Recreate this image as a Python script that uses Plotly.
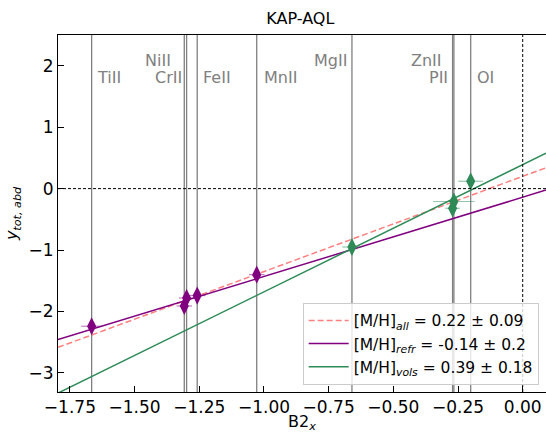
import plotly.graph_objects as go

# Elements (vertical reference lines and points)
elements = ["TiII", "NiII", "CrII", "FeII", "MnII", "MgII", "ZnII", "PII", "OI"]
elem_x = [-1.666, -1.308, -1.299, -1.258, -1.028, -0.660, -0.271, -0.266, -0.201]
label_row = [1.81, 2.09, 1.81, 1.81, 1.81, 2.09, 2.09, 1.81, 1.81]
label_side = ["right", "left", "left", "right", "right", "left", "left", "left", "right"]

# Refractory points
refr_x = [-1.666, -1.308, -1.299, -1.258, -1.028]
refr_y = [-2.24, -1.91, -1.78, -1.74, -1.40]
refr_xerr = [0.04, 0.03, 0.03, 0.032, 0.03]
refr_yerr = [0.05, 0.05, 0.05, 0.05, 0.05]

# Volatile points
vols_x = [-0.660, -0.271, -0.266, -0.201]
vols_y = [-0.95, -0.32, -0.21, 0.12]
vols_xerr = [0.037, 0.028, 0.08, 0.048]
vols_yerr = [0.05, 0.05, 0.05, 0.05]

# Fits: slope, intercept
fit_all = (1.55, 0.20)
fit_refr = (1.29, -0.14)
fit_vols = (2.07, 0.39)

x_range = [-1.796, 0.09]
y_range = [-3.31, 2.5]

fig = go.Figure()

# vertical element lines
for ex in elem_x:
    fig.add_shape(type="line", x0=ex, x1=ex, y0=0, y1=1, yref="paper", xref="x",
                  line=dict(color="gray", width=1.3), layer="below")

# zero lines
fig.add_shape(type="line", x0=x_range[0], x1=x_range[1], y0=0, y1=0,
              line=dict(color="black", width=1, dash="3px,2px"))
fig.add_shape(type="line", x0=0, x1=0, y0=0, y1=1, yref="paper",
              line=dict(color="black", width=1, dash="3px,2px"))

def fit_line(fit):
    xs = list(x_range)
    ys = [fit[0] * v + fit[1] for v in xs]
    return xs, ys

xs, ys = fit_line(fit_all)
fig.add_trace(go.Scatter(x=xs, y=ys, mode="lines",
                         line=dict(color="#ff7f7f", width=1.5, dash="6px,3px"),
                         name="[M/H]<sub><i>all</i></sub> = 0.22 ± 0.09"))
xs, ys = fit_line(fit_refr)
fig.add_trace(go.Scatter(x=xs, y=ys, mode="lines",
                         line=dict(color="purple", width=1.5),
                         name="[M/H]<sub><i>refr</i></sub> = -0.14 ± 0.2"))
xs, ys = fit_line(fit_vols)
fig.add_trace(go.Scatter(x=xs, y=ys, mode="lines",
                         line=dict(color="seagreen", width=1.5),
                         name="[M/H]<sub><i>vols</i></sub> = 0.39 ± 0.18"))

fig.add_trace(go.Scatter(x=refr_x, y=refr_y, mode="markers", showlegend=False,
                         marker=dict(symbol="diamond-tall", size=13, color="purple"),
                         error_x=dict(type="data", array=refr_xerr, color="rgba(128,0,128,0.5)", thickness=1.2, width=0),
                         error_y=dict(type="data", array=refr_yerr, color="rgba(128,0,128,0.5)", thickness=1.2, width=0)))
fig.add_trace(go.Scatter(x=vols_x, y=vols_y, mode="markers", showlegend=False,
                         marker=dict(symbol="diamond-tall", size=13, color="seagreen"),
                         error_x=dict(type="data", array=vols_xerr, color="rgba(46,139,87,0.5)", thickness=1.2, width=0),
                         error_y=dict(type="data", array=vols_yerr, color="rgba(46,139,87,0.5)", thickness=1.2, width=0)))

shifts = {"TiII": 3, "NiII": -11, "CrII": -3, "FeII": 4, "MnII": 5,
          "MgII": -3, "ZnII": -9, "PII": -4, "OI": 4}
for name, ex, ry, side in zip(elements, elem_x, label_row, label_side):
    fig.add_annotation(x=ex, y=ry, text=name, showarrow=False,
                       xanchor="left" if side == "right" else "right",
                       xshift=shifts[name], yanchor="middle",
                       font=dict(color="gray", size=16))

fig.update_layout(
    width=546, height=433,
    margin=dict(l=58, r=0, t=35, b=41),
    plot_bgcolor="white", paper_bgcolor="white",
    font=dict(family="DejaVu Sans", color="black", size=16),
    title=dict(text="KAP-AQL", x=0.55, xanchor="center", y=0.958, yanchor="middle",
               font=dict(size=16)),
    xaxis=dict(range=x_range, tickvals=[-1.75, -1.5, -1.25, -1.0, -0.75, -0.5, -0.25, 0.0],
               tickformat=".2f", ticks="inside", ticklen=6, tickcolor="black",
               tickfont=dict(size=17),
               showline=True, linecolor="black", linewidth=1, mirror=True,
               showgrid=False, zeroline=False,
               title=dict(text="B2<sub><i>x</i></sub>", standoff=0, font=dict(size=16))),
    yaxis=dict(range=y_range, tickvals=[-3, -2, -1, 0, 1, 2],
               ticks="inside", ticklen=6, tickcolor="black",
               tickfont=dict(size=17),
               showline=True, linecolor="black", linewidth=1, mirror=False,
               showgrid=False, zeroline=False,
               title=dict(text="<i>y<sub>tot, abd</sub></i>", standoff=6, font=dict(size=16))),
    legend=dict(x=0.985, y=0.02, xanchor="right", yanchor="bottom",
                bgcolor="rgba(255,255,255,0.8)", bordercolor="#cccccc", borderwidth=1,
                font=dict(size=15.5), tracegroupgap=0, itemwidth=40),
    showlegend=True,
)

fig.write_html("out.html")
